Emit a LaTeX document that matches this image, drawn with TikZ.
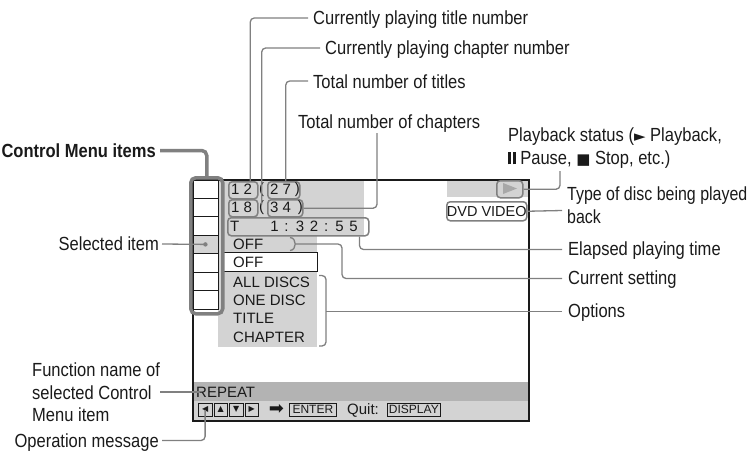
\documentclass[tikz,border=0pt]{standalone}
\usepackage{fontspec}
\setmainfont{Liberation Sans}
\newfontfamily\labfont[FakeStretch=0.87]{Liberation Sans}
\newfontfamily\labfontn[FakeStretch=0.84]{Liberation Sans}
\newfontfamily\boldlab[FakeStretch=0.87]{Liberation Sans}
\newfontfamily\symfont{DejaVu Sans}
\definecolor{callout}{HTML}{808080}
\definecolor{scrgray}{HTML}{D3D3D3}
\definecolor{bargray}{HTML}{B3B3B3}
\definecolor{ink}{HTML}{1A1A1A}
\definecolor{tri}{HTML}{A8A8A8}
\begin{document}
\begin{tikzpicture}[x=1pt,y=-1pt,
 lab/.style={font=\labfont\fontsize{19}{22.5}\selectfont, text=ink, inner sep=0pt},
 scr/.style={font=\fontsize{15}{18}\selectfont, text=ink, inner sep=0pt},
 call/.style={draw=callout, line width=1.3pt, rounded corners=4pt},
 hbox/.style={draw=callout, line width=1.5pt, rounded corners=3.5pt, inner sep=0pt, anchor=north west},
 cellbox/.style={draw=ink, line width=0.8pt, minimum width=26pt, minimum height=18.57pt, inner sep=0pt, anchor=north west},
 keybox/.style={draw=ink, line width=0.7pt, inner sep=0pt, anchor=north west, minimum height=13pt, font=\fontsize{12}{14}\selectfont, text=ink},
]
\useasboundingbox (0,0) rectangle (754,452);

% screen fills
\fill[scrgray] (218,179) rectangle (364,235);
\fill[scrgray] (218,235) rectangle (317,347);
\fill[scrgray] (447,179) rectangle (528,197);
\fill[bargray] (192,382) rectangle (528,401);
\fill[scrgray] (192,401) rectangle (528,420);

% white option box
\node[draw=ink, fill=white, line width=0.9pt, minimum width=96pt, minimum height=19pt, inner sep=0pt, anchor=north west] (offbox) at (221,252) {};

% control menu cells
\foreach \i in {0,1,2,4,5,6} {\node[cellbox, fill=white] (c\i) at (192,{179+18.57*\i}) {};}
\node[cellbox, fill=scrgray] (c3) at (192,{179+18.57*3}) {};

% screen frame
\node[draw=ink, line width=1.6pt, minimum width=336pt, minimum height=241pt, inner sep=0pt, anchor=north west] (screen) at (192,179) {};

% control menu outline
\node[draw=callout, line width=3.5pt, rounded corners=5pt, minimum width=32pt, minimum height=136pt, inner sep=0pt, anchor=north west] (cmi) at (189,176) {};
\fill[callout] (c3.center) circle (2.2pt);

% highlighted boxes
\node[hbox, minimum width=29pt, minimum height=17pt] (b12) at (228,181) {};
\node[hbox, minimum width=32pt, minimum height=17pt] (b27) at (267,181) {};
\node[hbox, minimum width=29pt, minimum height=17pt] (b18) at (228,199) {};
\node[hbox, minimum width=35pt, minimum height=17pt] (b34) at (267,199) {};
\node[hbox, minimum width=141pt, minimum height=18pt] (bT) at (227,217) {};
\node[hbox, minimum width=26pt, minimum height=17pt] (bPlay) at (496,180) {};
\node[hbox, minimum width=80pt, minimum height=19pt, scr, font=\fontsize{14.5}{16}\selectfont] (bDVD) at (446,201) {DVD VIDEO};
\fill[tri] (503,183) -- (517,188.5) -- (503,194) -- cycle;

% screen texts
\node[scr, anchor=west] (n12) at (231,189.5) {1 2};
\node[scr, anchor=west] (po1) at (259,189.5) {(};
\node[scr, anchor=west] (n27) at (270,189.5) {2 7};
\node[scr, anchor=east] (pc1) at (300,189.5) {)};
\node[scr, anchor=west] (n18) at (231,207.5) {1 8};
\node[scr, anchor=west] (po2) at (259,207.5) {(};
\node[scr, anchor=west] (n34) at (270,207.5) {3 4};
\node[scr, anchor=east] (pc2) at (303,207.5) {)};
\node[scr, anchor=west] (nT) at (230,226) {T};
\node[scr, anchor=east] (ntime) at (358,226) {1\hspace{1.6pt} : \hspace{1.6pt}3\hspace{1.6pt} 2\hspace{1.6pt} : \hspace{1.6pt}5\hspace{1.6pt} 5};
\node[scr, anchor=west] (off1) at (233,244) {OFF};
\node[scr, anchor=west] (off2) at (233,262) {OFF};
\node[scr, anchor=west] (o1) at (233,282) {ALL DISCS};
\node[scr, anchor=west] (o2) at (233,300) {ONE DISC};
\node[scr, anchor=west] (o3) at (233,318.5) {TITLE};
\node[scr, anchor=west] (o4) at (233,337) {CHAPTER};
\node[scr, anchor=west] (rep) at (196,392) {REPEAT};

% operation row
\node[keybox, minimum width=13.5pt, font=\symfont\fontsize{8}{9}\selectfont] (k1) at (198,403) {◀};
\node[keybox, minimum width=13.5pt, font=\symfont\fontsize{8}{9}\selectfont] (k2) at (213.5,403) {▲};
\node[keybox, minimum width=13.5pt, font=\symfont\fontsize{8}{9}\selectfont] (k3) at (229,403) {▼};
\node[keybox, minimum width=13.5pt, font=\symfont\fontsize{8}{9}\selectfont] (k4) at (244.5,403) {▶};
\node[inner sep=0pt, font=\symfont\fontsize{18}{18}\selectfont, text=ink] (arr) at (276.5,409.5) {➡};
\node[keybox, minimum width=47pt] (ent) at (289,403) {ENTER};
\node[scr, anchor=west] (quit) at (347,410) {Quit:};
\node[keybox, minimum width=53pt] (disp) at (387,403) {DISPLAY};

% brackets
\draw[call] (290,237.5) .. controls (297,238) and (297,250) .. (290,250.5);
\coordinate (brOff) at (296,244);
\draw[call] (319,275.5) -- (326,275.5) -- (326,346) -- (319,346);
\coordinate (brOpt) at (326,311.5);

% labels
\node[lab, anchor=base west] (tTitle) at (313,25) {Currently playing title number};
\node[lab, anchor=base west] (tChap) at (325,55) {Currently playing chapter number};
\node[lab, anchor=base west] (tTitles) at (313,88) {Total number of titles};
\node[lab, anchor=base west] (tChaps) at (298,128) {Total number of chapters};
\node[lab, anchor=north west, align=left] (tPlay) at (508,128) {Playback status ({\symfont\fontsize{15}{18}\selectfont ►} Playback,\\\rule{3pt}{12pt}\hspace{1.5pt}\rule{3pt}{12pt} Pause, {\symfont\fontsize{15}{18}\selectfont ■} Stop, etc.)};
\node[lab, font=\labfontn\fontsize{19}{23}\selectfont, anchor=north west, align=left] (tDisc) at (567,187) {Type of disc being played\\back};
\node[lab, anchor=base west] (tElapsed) at (568,255) {Elapsed playing time};
\node[lab, anchor=base west] (tCurrent) at (568,284) {Current setting};
\node[lab, anchor=base west] (tOptions) at (568,317) {Options};
\node[lab, font=\boldlab\bfseries\fontsize{19}{22}\selectfont, anchor=base east] (tCMI) at (156,157) {Control Menu items};
\node[lab, anchor=base east] (tSel) at (159,250) {Selected item};
\node[lab, anchor=north west, align=left] (tFunc) at (32,363) {Function name of\\selected Control\\Menu item};
\node[lab, anchor=base east] (tOp) at (159,447) {Operation message};

% connectors
\draw[call] ([xshift=-5pt,yshift=7pt]tTitle.base west) -| ([xshift=7pt]b12.north);
\draw[call] ([xshift=-5pt,yshift=7pt]tChap.base west) -| ([yshift=-4pt]po2.north);
\draw[call] ([xshift=-5pt,yshift=7pt]tTitles.base west) -| ([xshift=2pt]b27.north);
\coordinate (kCh) at (377,133);
\draw[call] (kCh) |- (b34.east);
\coordinate (kPl) at (560,171);
\draw[call] (kPl) |- (bPlay.east);
\coordinate (kDi) at (562,210.5);
\draw[call] (kDi) -- (bDVD.east);
\draw[call] ([xshift=-6pt,yshift=5.5pt]tElapsed.base west) -| ([xshift=-10pt]bT.south east);
\draw[call] ([xshift=-6pt,yshift=5.5pt]tCurrent.base west) -| (342,244) -- (brOff);
\draw[call] ([xshift=-6pt,yshift=5.5pt]tOptions.base west) -- (brOpt);
\draw[draw=callout, line width=3.5pt, rounded corners=5pt] ([xshift=4pt,yshift=6.5pt]tCMI.base east) -| (cmi.north);
\draw[call] ([xshift=3pt,yshift=6pt]tSel.base east) -- (c3.center);
\coordinate (kFu) at (160,392);
\draw[call] (kFu) -- ([xshift=4pt]rep.west);
\draw[call] ([xshift=3pt,yshift=6.5pt]tOp.base east) -| (k1.center);
\end{tikzpicture}
\end{document}
